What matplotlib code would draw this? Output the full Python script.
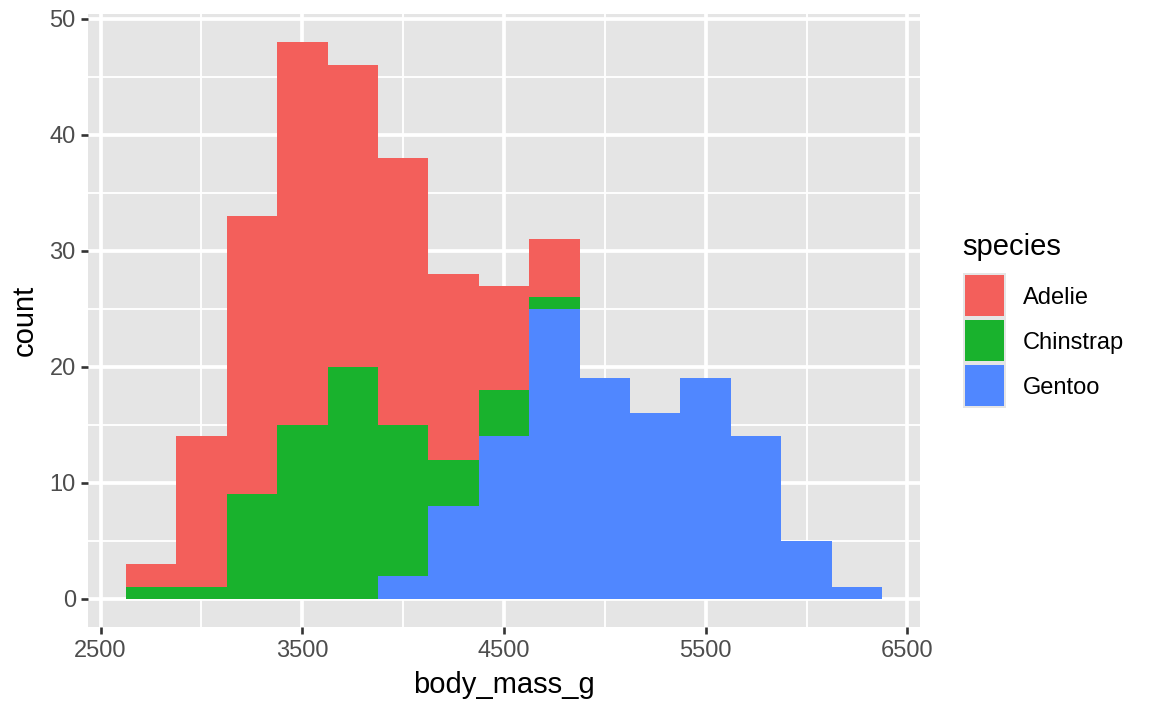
import matplotlib
matplotlib.use("Agg")
import matplotlib.pyplot as plt
from matplotlib.patches import Rectangle

plt.rcParams['font.family'] = ['Liberation Sans', 'DejaVu Sans']

# bin centres (binwidth 250) and counts per species
bin_centers = [2750, 3000, 3250, 3500, 3750, 4000, 4250, 4500, 4750,
               5000, 5250, 5500, 5750, 6000, 6250]
adelie = [2, 13, 24, 33, 26, 23, 16, 9, 5, 0, 0, 0, 0, 0, 0]
chinstrap = [1, 1, 9, 15, 20, 13, 4, 4, 1, 0, 0, 0, 0, 0, 0]
gentoo = [0, 0, 0, 0, 0, 2, 8, 14, 25, 19, 16, 19, 14, 5, 1]
species = ["Adelie", "Chinstrap", "Gentoo"]
colors = {"Adelie": "#F35F5B", "Chinstrap": "#19B22D", "Gentoo": "#5087FF"}

x_major = [2500, 3500, 4500, 5500, 6500]
x_minor = [3000, 4000, 5000, 6000]
y_major = [0, 10, 20, 30, 40, 50]
y_minor = [5, 15, 25, 35, 45]

PANEL = "#E5E5E5"

fig = plt.figure(figsize=(11.52, 7.11), dpi=100)
ax = fig.add_axes([88 / 1152, 1 - 626.7 / 711, (920 - 88) / 1152, (626.7 - 14.3) / 711])
ax.set_facecolor(PANEL)

# grid
for v in x_minor:
    ax.axvline(v, color="white", lw=1.35, zorder=0)
for v in y_minor:
    ax.axhline(v, color="white", lw=1.35, zorder=0)
for v in x_major:
    ax.axvline(v, color="white", lw=2.7, zorder=0)
for v in y_major:
    ax.axhline(v, color="white", lw=2.7, zorder=0)

# stacked bars: Gentoo at bottom, Adelie on top
ax.bar(bin_centers, gentoo, width=250, color=colors["Gentoo"], lw=0, zorder=2)
bottom = gentoo
ax.bar(bin_centers, chinstrap, width=250, bottom=bottom, color=colors["Chinstrap"], lw=0, zorder=2)
bottom = [a + b for a, b in zip(gentoo, chinstrap)]
ax.bar(bin_centers, adelie, width=250, bottom=bottom, color=colors["Adelie"], lw=0, zorder=2)

ax.set_xlim(2437.5, 6562.5)
ax.set_ylim(-2.4, 50.4)
ax.set_xticks(x_major)
ax.set_yticks(y_major)
ax.set_xticklabels([str(v) for v in x_major])
ax.set_yticklabels([str(v) for v in y_major])
for s in ax.spines.values():
    s.set_visible(False)
ax.tick_params(axis="both", length=5.3, width=1.9, color="#333333",
               labelcolor="#4D4D4D", labelsize=17, pad=3.5)
ax.tick_params(axis="x", pad=4.5)

ax.set_xlabel("body_mass_g", fontsize=21, color="black", labelpad=6)
ax.set_ylabel("count", fontsize=21, color="black", labelpad=8)

# legend
fig.text(962 / 1152, 1 - 247 / 711, "species", fontsize=21, ha="left", va="center")
key = 45
for i, sp in enumerate(species):
    top = 273 + i * key
    fig.add_artist(Rectangle((963 / 1152, 1 - (top + key) / 711), 43 / 1152, key / 711,
                             transform=fig.transFigure, facecolor=PANEL, edgecolor="none"))
    fig.add_artist(Rectangle((965 / 1152, 1 - (top + key - 2) / 711), 39 / 1152, (key - 4) / 711,
                             transform=fig.transFigure, facecolor=colors[sp], edgecolor="none"))
    fig.text(1023 / 1152, 1 - (top + key / 2 + 3) / 711, sp, fontsize=17, ha="left", va="center")

fig.savefig("out.png", dpi=100)
